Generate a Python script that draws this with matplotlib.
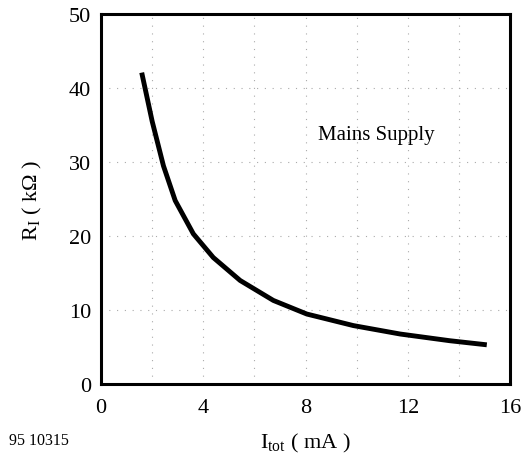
import matplotlib
matplotlib.use('Agg')
import matplotlib.pyplot as plt

plt.rcParams['font.family'] = ['Liberation Serif', 'DejaVu Serif']
plt.rcParams['mathtext.fontset'] = 'custom'
plt.rcParams['mathtext.rm'] = 'Liberation Serif'

# Mains supply curve
i_tot = [1.59, 2.0, 2.44, 2.9, 3.61, 4.39, 5.44, 6.74, 8.05, 9.87, 11.7, 13.65, 15.09]
r_i = [42.1, 35.5, 29.5, 24.8, 20.3, 17.1, 14.0, 11.3, 9.46, 7.9, 6.76, 5.85, 5.3]

x_ticks = [0, 4, 8, 12, 16]
y_ticks = [0, 10, 20, 30, 40, 50]

fig = plt.figure(figsize=(5.21, 4.60), dpi=100)
ax = fig.add_axes([0.194, 0.163, 0.785, 0.804])

ax.plot(i_tot, r_i, color='black', linewidth=3.5, solid_capstyle='butt')

ax.set_xlim(0, 16)
ax.set_ylim(0, 50)
ax.set_xticks(x_ticks)
ax.set_yticks(y_ticks)
ax.set_xticks(range(2, 16, 2), minor=True)
ax.tick_params(which='both', length=0)
ax.tick_params(axis='x', pad=10, labelsize=16)
ax.tick_params(axis='y', pad=7, labelsize=16)
ax.grid(True, which='both', color='#aaaaaa', linestyle=(0, (1, 6)), linewidth=0.8)
for s in ax.spines.values():
    s.set_linewidth(2.2)

ax.text(8.5, 33.8, 'Mains Supply', fontsize=15, va='center')

ax.set_xlabel('I$_\\mathrm{tot}$ ( mA )', fontsize=16, labelpad=10)
ax.set_ylabel('R$_\\mathrm{I}$ ( kΩ )', fontsize=16, labelpad=18)
fig.text(0.018, 0.033, '95 10315', fontsize=11.5)

fig.savefig('out.png', dpi=100)
